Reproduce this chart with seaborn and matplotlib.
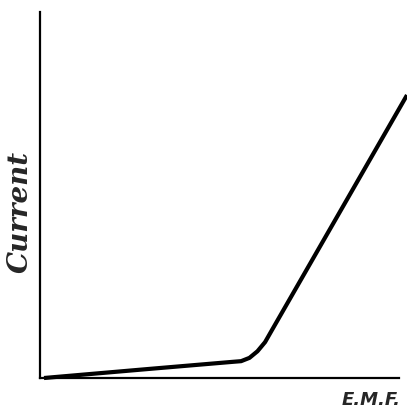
import matplotlib
matplotlib.use("Agg")
import matplotlib.pyplot as plt
import seaborn as sns
import pandas as pd

# Current vs. E.M.F.: a slow leak, a rounded knee, then a steep straight rise
emf = [0.11, 3.03, 5.29, 5.54, 5.77, 5.99, 6.20, 6.39, 10.11]
current = [0.00, 0.25, 0.44, 0.46, 0.55, 0.73, 0.98, 1.31, 7.73]

x_label = "E.M.F."
y_label = "Current"

df = pd.DataFrame({"emf": emf, "current": current})

sns.set_style("white")
plt.rcParams["font.family"] = ["DejaVu Sans"]

fig = plt.figure(figsize=(4.07, 4.15), dpi=100)
ax = fig.add_axes([40 / 407, 37 / 415, 367 / 407, 366 / 415])

sns.lineplot(data=df, x="emf", y="current", ax=ax, color="black",
             linewidth=3.0, solid_capstyle="butt", solid_joinstyle="round",
             clip_on=False)

ax.set_xlim(0, 10.11)
ax.set_ylim(0, 10)
ax.set_xticks([])
ax.set_yticks([])
ax.set_xlabel("")
ax.set_ylabel("")

for side in ("top", "right"):
    ax.spines[side].set_visible(False)
for side in ("left", "bottom"):
    ax.spines[side].set_color("black")
    ax.spines[side].set_linewidth(1.6)
ax.spines["bottom"].set_bounds(0, 9.9)

fig.text(20 / 407, 1 - 212 / 415, y_label, rotation=90, ha="center", va="center",
         fontsize=20, fontweight="bold", fontstyle="italic", family="DejaVu Serif")
fig.text(371 / 407, 1 - 400 / 415, x_label, ha="center", va="center",
         fontsize=13, fontweight="bold", fontstyle="italic", family="DejaVu Sans")

fig.savefig("out.png", dpi=100, facecolor="white")
